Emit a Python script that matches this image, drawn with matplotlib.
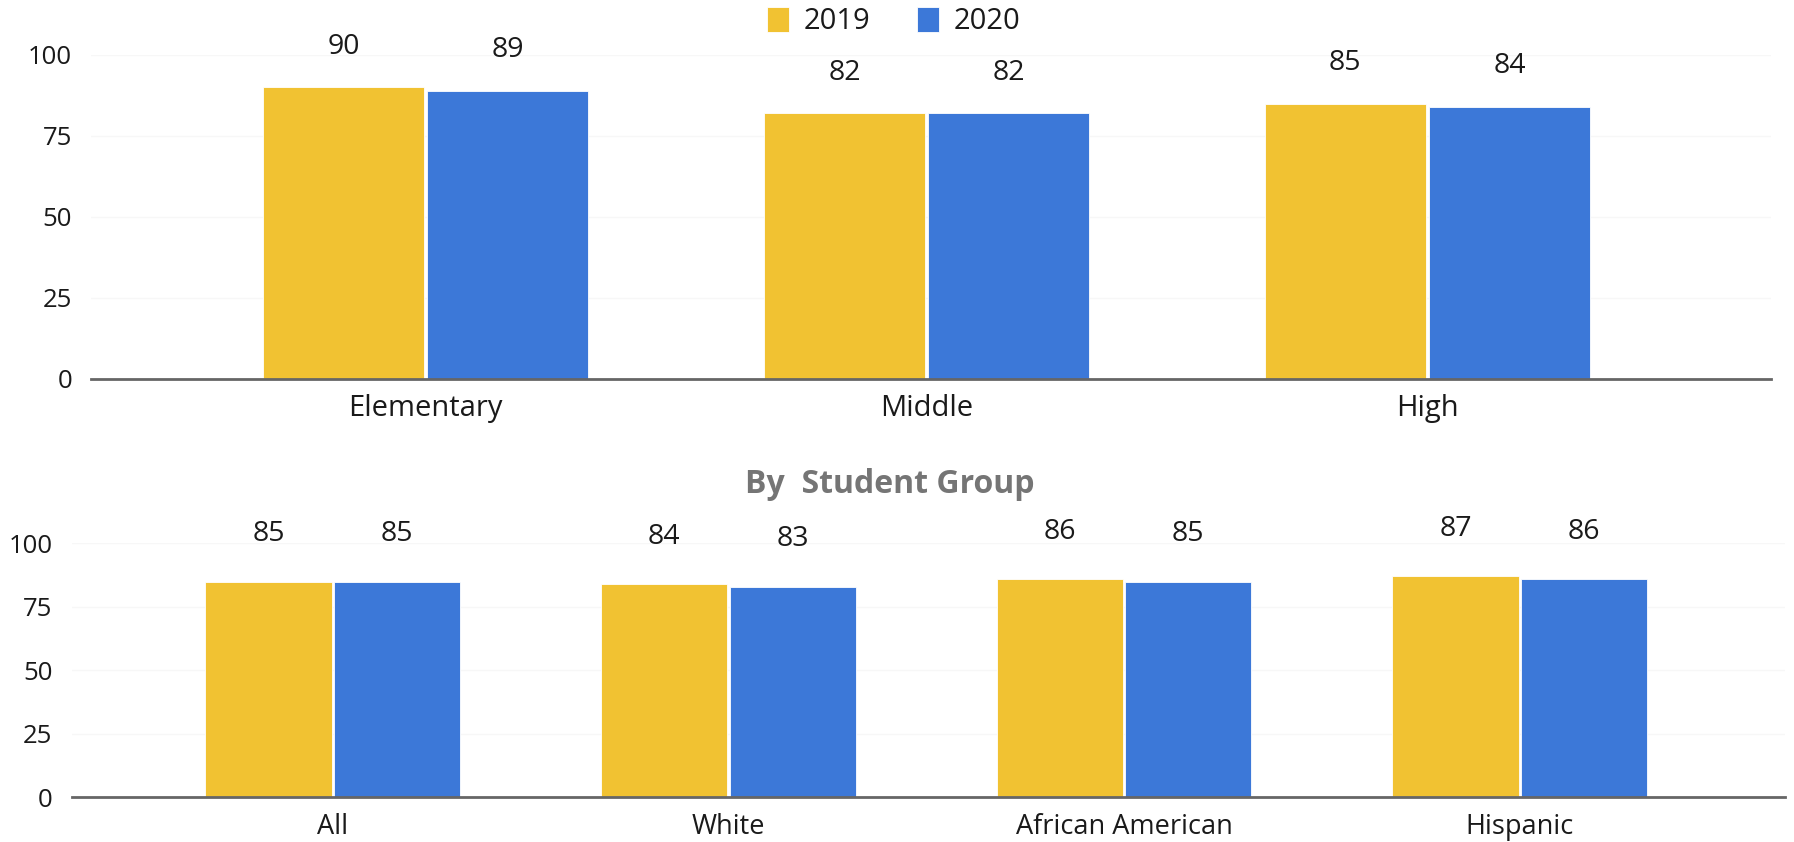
import matplotlib
matplotlib.use("Agg")
import matplotlib.pyplot as plt
import numpy as np

plt.rcParams['font.family'] = ['Open Sans', 'DejaVu Sans']

series = ['2019', '2020']
colors = ['#F1C232', '#3C78D8']

levels = ['Elementary', 'Middle', 'High']
level_2019 = [90, 82, 85]
level_2020 = [89, 82, 84]

groups = ['All', 'White', 'African American', 'Hispanic']
group_2019 = [85, 84, 86, 87]
group_2020 = [85, 83, 85, 86]

yticks = [0, 25, 50, 75, 100]

W, H = 1794, 842
fig = plt.figure(figsize=(W / 100, H / 100), dpi=100)

ax1 = fig.add_axes([0.051, 0.5503, 0.936, 0.3844])
ax2 = fig.add_axes([0.0401, 0.0530, 0.955, 0.3016])


def draw(ax, cats, v19, v20, xlim, width, lab_off, tick_size, cat_size, cat_pad, val_size):
    x = np.arange(len(cats))
    off = width / 2 + 0.003
    for vals, sign, col, name in [(v19, -1, colors[0], series[0]), (v20, 1, colors[1], series[1])]:
        bars = ax.bar(x + sign * off, vals, width=width, color=col, edgecolor='white',
                      linewidth=0.6, label=name, zorder=3)
        for b, v in zip(bars, vals):
            ax.annotate(f"{v}", (b.get_x() + b.get_width() / 2, b.get_height()),
                        xytext=(0, lab_off), textcoords='offset points',
                        ha='center', va='center', fontsize=val_size, color='#1a1a1a')
    ax.set_xlim(*xlim)
    ax.set_ylim(0, 100)
    ax.set_yticks(yticks)
    ax.set_yticklabels([str(t) for t in yticks], fontsize=tick_size, color='#1a1a1a')
    ax.set_xticks(x)
    ax.set_xticklabels(cats, fontsize=cat_size, color='#1a1a1a')
    ax.tick_params(axis='both', length=0)
    ax.tick_params(axis='x', pad=cat_pad)
    ax.tick_params(axis='y', pad=14)
    for s in ['top', 'right', 'left']:
        ax.spines[s].set_visible(False)
    ax.spines['bottom'].set_color('#666666')
    ax.spines['bottom'].set_linewidth(2)
    ax.spines['bottom'].set_zorder(4)
    ax.grid(axis='y', color='#f7f7f7', linewidth=1, zorder=0)
    ax.set_axisbelow(True)


draw(ax1, levels, level_2019, level_2020, (-0.667, 2.685), 0.322, 29, 18.5, 21, 11, 20.5)
draw(ax2, groups, group_2019, group_2020, (-0.659, 3.671), 0.319, 34, 18.5, 19.5, 11, 20.5)

fig.text(0.496, 0.425, 'By  Student Group', fontsize=23, fontweight='bold',
         color='#757575', ha='center', va='center')

handles, labels = ax1.get_legend_handles_labels()
fig.legend(handles, labels, loc='center', bbox_to_anchor=(0.498, 0.974), ncol=2,
           frameon=False, fontsize=21, handlelength=0.75, handleheight=0.9,
           columnspacing=1.6, handletextpad=0.5, labelcolor='#1a1a1a')

fig.savefig('out.png', dpi=100)
